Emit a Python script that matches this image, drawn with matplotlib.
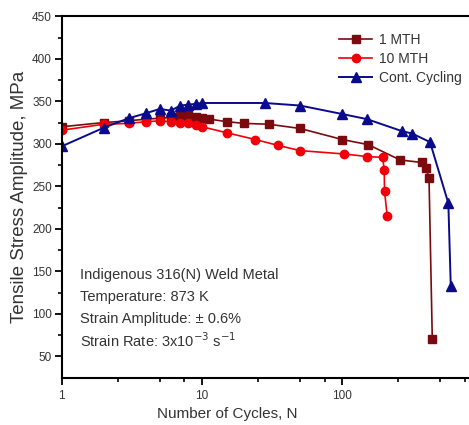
import matplotlib
matplotlib.use("Agg")
import matplotlib.pyplot as plt
from matplotlib.ticker import FixedLocator, NullFormatter

plt.rcParams['font.family'] = ['Liberation Sans', 'DejaVu Sans']

# 1 MTH (hold time 1 min)
mth1_n = [1, 2, 3, 4, 5, 6, 7, 8, 9, 10, 11.3, 15, 20, 30, 50, 100, 153, 258, 368, 395, 415, 438]
mth1_s = [320, 325, 327, 329, 330, 331, 333, 334, 332, 330, 329, 326, 324, 323, 318, 305, 299, 281, 278, 271, 260, 70]

# 10 MTH
mth10_n = [1, 2, 3, 4, 5, 6, 7, 8, 9, 10, 15, 24, 35, 50, 103, 150, 194, 199, 200, 209]
mth10_s = [316, 323, 324, 326, 327, 326, 325, 324, 322, 320, 313, 305, 298, 292, 288, 285, 284, 269, 244, 215]

# continuous cycling
cc_n = [1, 2, 3, 4, 5, 6, 7, 8, 9, 10, 28, 50, 100, 150, 265, 315, 422, 570, 593]
cc_s = [297, 319, 330, 336, 341, 339, 345, 346, 347, 348, 348, 345, 335, 329, 315, 312, 302, 230, 133]

xticks = [1, 10, 100]
xminor = [2.5, 5, 7.5, 25, 50, 75, 250, 500, 750]
yticks = list(range(50, 451, 50))
yminor = list(range(75, 451, 50))

txt = '#333333'
W, H = 469, 425
fig = plt.figure(figsize=(W / 100, H / 100), dpi=100)
ax = fig.add_axes([61.7 / W, 1 - 377.5 / H, 1 - 61.7 / W, (377.5 - 16.3) / H])

ax.plot(mth1_n, mth1_s, '-s', color='#7a0a0e', ms=6, lw=1.2, label='1 MTH')
ax.plot(mth10_n, mth10_s, '-o', color='#f00008', ms=6, lw=1.2, label='10 MTH')
ax.plot(cc_n, cc_s, '-^', color='#0a0a8c', ms=6.5, lw=1.4, label='Cont. Cycling')

ax.set_xscale('log')
ax.set_xlim(1, 800)
ax.set_ylim(25, 450)
ax.xaxis.set_major_locator(FixedLocator(xticks))
ax.xaxis.set_minor_locator(FixedLocator(xminor))
ax.xaxis.set_minor_formatter(NullFormatter())
ax.set_xticklabels([str(t) for t in xticks])
ax.yaxis.set_major_locator(FixedLocator(yticks))
ax.yaxis.set_minor_locator(FixedLocator(yminor))

ax.spines['right'].set_visible(False)
for s in ['left', 'bottom', 'top']:
    ax.spines[s].set_linewidth(1.5)
ax.tick_params(which='major', direction='out', length=5, width=1.3, labelsize=8.5,
               labelcolor=txt, pad=2)
ax.tick_params(which='minor', direction='out', length=3, width=1.2)
ax.tick_params(axis='x', which='major', pad=4)

ax.set_xlabel('Number of Cycles, N', fontsize=11, color=txt)
ax.xaxis.set_label_coords(0.406, -0.082)
ax.set_ylabel('Tensile Stress Amplitude, MPa', fontsize=13.5, color=txt, labelpad=3)

leg = ax.legend(loc='upper right', bbox_to_anchor=(1.01, 0.985), frameon=False,
                fontsize=10, handlelength=2.4, handletextpad=0.5,
                labelspacing=0.35, borderaxespad=0.4)
for t in leg.get_texts():
    t.set_color(txt)

notes = ['Indigenous 316(N) Weld Metal',
         'Temperature: 873 K',
         'Strain Amplitude: \u00b1 0.6%',
         r'Strain Rate: 3x10$^{-3}$ s$^{-1}$']
for i, s in enumerate(notes):
    fig.text(80 / W, 1 - (275 + 22 * i) / H, s, fontsize=10.5, color=txt, va='center')

fig.savefig('out.png', dpi=100)
